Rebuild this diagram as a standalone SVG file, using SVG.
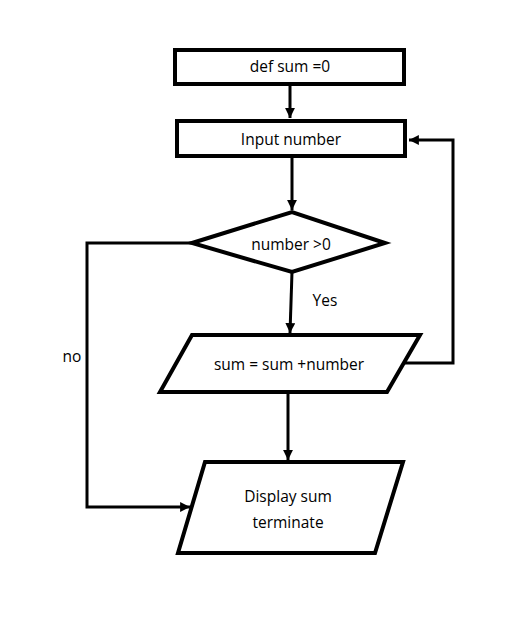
<svg xmlns="http://www.w3.org/2000/svg" width="531" height="637" viewBox="0 0 531 637">
<style>
.n{fill:#fff;stroke:#000;stroke-width:4}
.c{fill:none;stroke:#000;stroke-width:3}
text{font-family:"Open Sans","Noto Sans",sans-serif;font-size:15.5px;fill:#000;text-anchor:middle}
</style>
<defs>
<marker id="a" viewBox="0 0 10 10" refX="10" refY="5" markerWidth="3.3" markerHeight="3.3" orient="auto" markerUnits="strokeWidth">
<path d="M0,0L10,5L0,10z" fill="#000"/>
</marker>
</defs>
<rect width="531" height="637" fill="#fff"/>
<g id="connectors">
<line class="c" x1="290" y1="85" x2="290" y2="118" marker-end="url(#a)"/>
<line class="c" x1="292" y1="158" x2="292" y2="210" marker-end="url(#a)"/>
<line class="c" x1="292" y1="272" x2="290" y2="333" marker-end="url(#a)"/>
<line class="c" x1="288" y1="392" x2="288" y2="460" marker-end="url(#a)"/>
<polyline class="c" points="405,363 453,363 453,140 409,140" marker-end="url(#a)"/>
<polyline class="c" points="192,243 87,243 87,507 190,507" marker-end="url(#a)"/>
</g>
<g id="label-yes"><text x="325" y="306">Yes</text></g>
<g id="label-no"><text x="72" y="362">no</text></g>
<g id="n1"><rect class="n" x="175" y="50" width="229" height="34"/><text x="290" y="72">def sum =0</text></g>
<g id="n2"><rect class="n" x="177" y="121" width="228" height="35"/><text x="291" y="145">Input number</text></g>
<g id="n3"><polygon class="n" points="192,243 292,212 385,243 292,272"/><text x="291" y="250">number &gt;0</text></g>
<g id="n4"><polygon class="n" points="192,335 420,335 387,392 160,392"/><text x="289" y="370">sum = sum +number</text></g>
<g id="n5"><polygon class="n" points="205,462 403,462 375,553 178,553"/><text x="288" y="502">Display sum</text><text x="288" y="528">terminate</text></g>
</svg>
